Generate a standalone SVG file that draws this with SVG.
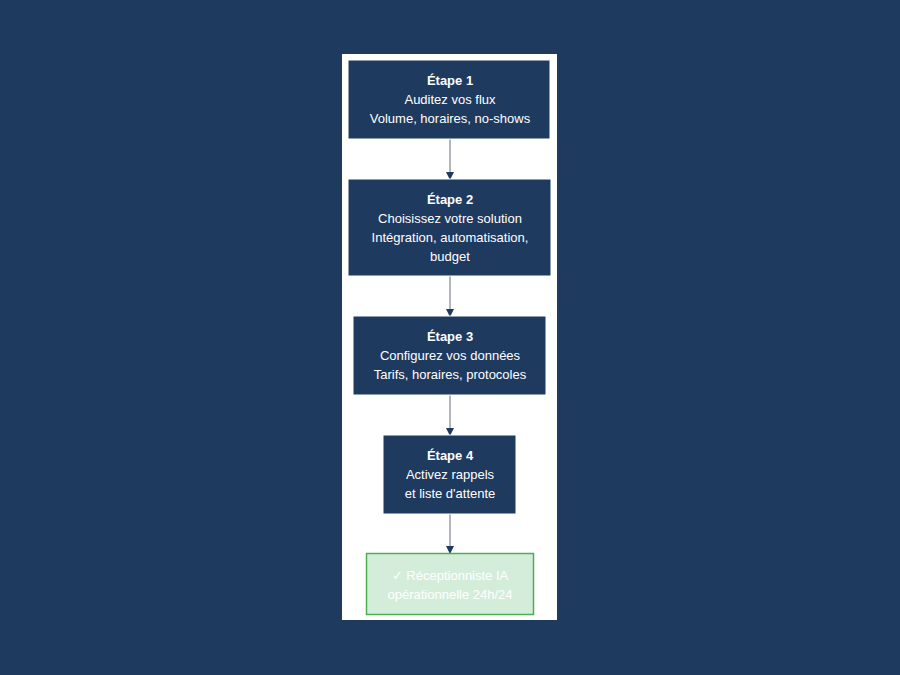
<svg xmlns="http://www.w3.org/2000/svg" width="900" height="675" viewBox="0 0 900 675">
<style>
.n{fill:#1f3a5f;stroke:#ffffff;stroke-width:1}
.t{font-family:"Liberation Sans",Arial,sans-serif;font-size:13px;fill:#ffffff;text-anchor:middle}
.b{font-weight:bold}
.c{stroke:#8a8f98;stroke-width:1.3;fill:none}
</style>
<defs><marker id="a" markerWidth="8" markerHeight="8" refX="7" refY="4" orient="auto" markerUnits="userSpaceOnUse"><path d="M0,0 L8,4 L0,8 z" fill="#1f3a5f"/></marker></defs>
<rect width="900" height="675" fill="#1f3a5f"/>
<rect x="342" y="54" width="215" height="566" fill="#ffffff"/>
<g id="connectors">
<line class="c" x1="450" y1="139" x2="450" y2="179" marker-end="url(#a)"/>
<line class="c" x1="450" y1="276" x2="450" y2="316" marker-end="url(#a)"/>
<line class="c" x1="450" y1="395" x2="450" y2="435" marker-end="url(#a)"/>
<line class="c" x1="450" y1="514" x2="450" y2="553" marker-end="url(#a)"/>
</g>
<g id="n1"><rect class="n" x="348" y="60" width="202" height="79"/>
<text class="t b" x="450" y="85">Étape 1</text><text class="t" x="450" y="104">Auditez vos flux</text><text class="t" x="450" y="123">Volume, horaires, no-shows</text></g>
<g id="n2"><rect class="n" x="348" y="179" width="203" height="97"/>
<text class="t b" x="450" y="204">Étape 2</text><text class="t" x="450" y="223">Choisissez votre solution</text><text class="t" x="450" y="242">Intégration, automatisation,</text><text class="t" x="450" y="261">budget</text></g>
<g id="n3"><rect class="n" x="353" y="316" width="193" height="79"/>
<text class="t b" x="450" y="341">Étape 3</text><text class="t" x="450" y="360">Configurez vos données</text><text class="t" x="450" y="379">Tarifs, horaires, protocoles</text></g>
<g id="n4"><rect class="n" x="383" y="435" width="133" height="79"/>
<text class="t b" x="450" y="460">Étape 4</text><text class="t" x="450" y="479">Activez rappels</text><text class="t" x="450" y="498">et liste d'attente</text></g>
<g id="n5"><rect x="366.5" y="553.5" width="167" height="61" fill="#d4edda" stroke="#4caf50" stroke-width="1.5"/>
<text class="t" x="450" y="580">✓ Réceptionniste IA</text><text class="t" x="450" y="599">opérationnelle 24h/24</text></g>
</svg>
